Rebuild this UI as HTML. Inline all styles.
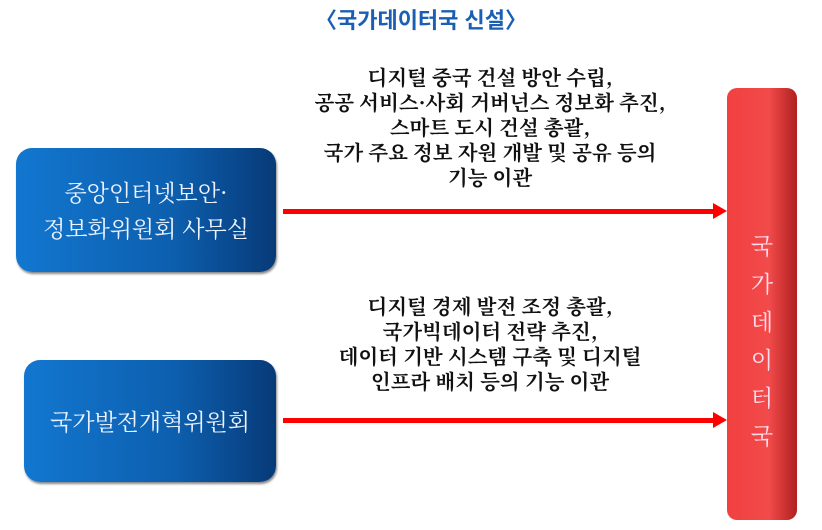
<!DOCTYPE html>
<html><head><meta charset="utf-8"><style>
body{margin:0;width:822px;height:530px;background:#fff;position:relative;overflow:hidden;font-family:"Liberation Sans","Noto Sans CJK KR","NanumGothic",sans-serif}
.t{position:absolute;left:10px;width:822px;top:3px;text-align:center;color:#1a5fb4;font-weight:bold;font-size:22px}
.box{position:absolute;border-radius:16px;background:linear-gradient(90deg,#1277d0 0%,#0d5fae 60%,#073a78 100%);color:#eaf2ff;font-family:"Noto Serif CJK SC","NanumGothic",serif;font-size:23px;text-align:center;display:flex;align-items:center;justify-content:center;line-height:36px;box-shadow:1px 2px 2px #888}
.bar{position:absolute;left:727px;top:88px;width:70px;height:432px;border-radius:10px;background:linear-gradient(90deg,#f24040 0%,#f24a4a 60%,#b02020 100%)}
.v{position:absolute;left:727px;width:70px;text-align:center;color:#fde;font-size:23px;font-family:"Noto Serif CJK SC",serif}
.txt{position:absolute;left:240px;width:500px;text-align:center;font-family:"Noto Serif CJK KR","Noto Serif CJK SC",serif;font-weight:bold;font-size:20.5px;line-height:25px;color:#111}
.ar{position:absolute;left:283px;width:432px;height:5px;background:#f00}
.ah{position:absolute;width:0;height:0;border-top:8px solid transparent;border-bottom:8px solid transparent;border-left:14px solid #f00;left:713px}
</style></head><body>
<div class="t">〈국가데이터국 신설〉</div>
<div class="txt" style="top:64px">디지털 중국 건설 방안 수립,<br>공공 서비스·사회 거버넌스 정보화 추진,<br>스마트 도시 건설 총괄,<br>국가 주요 정보 자원 개발 및 공유 등의<br>기능 이관</div>
<div class="txt" style="top:293px">디지털 경제 발전 조정 총괄,<br>국가빅데이터 전략 추진,<br>데이터 기반 시스템 구축 및 디지털<br>인프라 배치 등의 기능 이관</div>
<div class="box" style="left:16px;top:148px;width:260px;height:124px">중앙인터넷보안·<br>정보화위원회 사무실</div>
<div class="box" style="left:24px;top:360px;width:252px;height:122px">국가발전개혁위원회</div>
<div class="ar" style="top:209px"></div><div class="ah" style="top:203px"></div>
<div class="ar" style="top:418px"></div><div class="ah" style="top:412px"></div>
<div class="bar"></div>
<div class="v" style="top:228px">국</div>
<div class="v" style="top:266px">가</div>
<div class="v" style="top:304px">데</div>
<div class="v" style="top:342px">이</div>
<div class="v" style="top:380px">터</div>
<div class="v" style="top:418px">국</div>
</body></html>
